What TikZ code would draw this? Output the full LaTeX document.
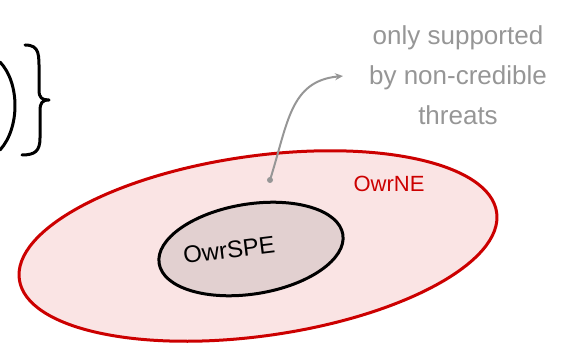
\documentclass[tikz,border=0pt]{standalone}
\usepackage{fontspec}
\setmainfont{Liberation Sans}
\usetikzlibrary{arrows.meta}
\definecolor{nered}{RGB}{204,0,0}
\definecolor{nefill}{RGB}{250,228,228}
\definecolor{spefill}{RGB}{226,208,208}
\definecolor{notegray}{RGB}{150,150,150}
\tikzset{
  pen/.style={line width=3pt, line cap=round, line join=round},
  notetext/.style={text=notegray, font=\fontsize{26}{40}\selectfont, align=center},
}
\begin{document}
\begin{tikzpicture}[x=1pt, y=1pt]
\useasboundingbox (0,0) rectangle (567,343);
% outer set: equilibria
\draw[pen, draw=nered, fill=nefill, rotate around={8:(258,97)}] (258,97) ellipse (241 and 90);
% inner set: subgame perfect equilibria
\draw[pen, draw=black, fill=spefill, rotate around={9:(251,94)}] (251,94) ellipse (93 and 45);
\node[rotate=7, font=\fontsize{24}{28}\selectfont] (spe) at (229,93) {OwrSPE};
\node[text=nered, font=\fontsize{22}{26}\selectfont] (ne) at (389,159) {OwrNE};
% annotation with pointer
\node[notetext] (note) at (458,268) {only supported\\by non-credible\\threats};
\coordinate (dot) at (270,163);
\coordinate (tip) at (343,267);
\fill[notegray] (dot) circle (3);
\draw[line width=2pt, notegray, line cap=round, -{Stealth[length=8pt,width=7pt]}]
  (dot) .. controls (288,220) and (290,262) .. (tip);
% closing delimiters at the left edge
\draw[pen] (0,281) .. controls (20,260) and (20,215) .. (0,193);
\draw[pen] (25,298) .. controls (40,298) and (39,288) .. (39,270)
  -- (39,253) .. controls (39,245) and (42,243) .. (49,243)
  .. controls (42,243) and (40,240) .. (40,232)
  -- (40,205) .. controls (40,192) and (35,188) .. (22,188);
\end{tikzpicture}
\end{document}
